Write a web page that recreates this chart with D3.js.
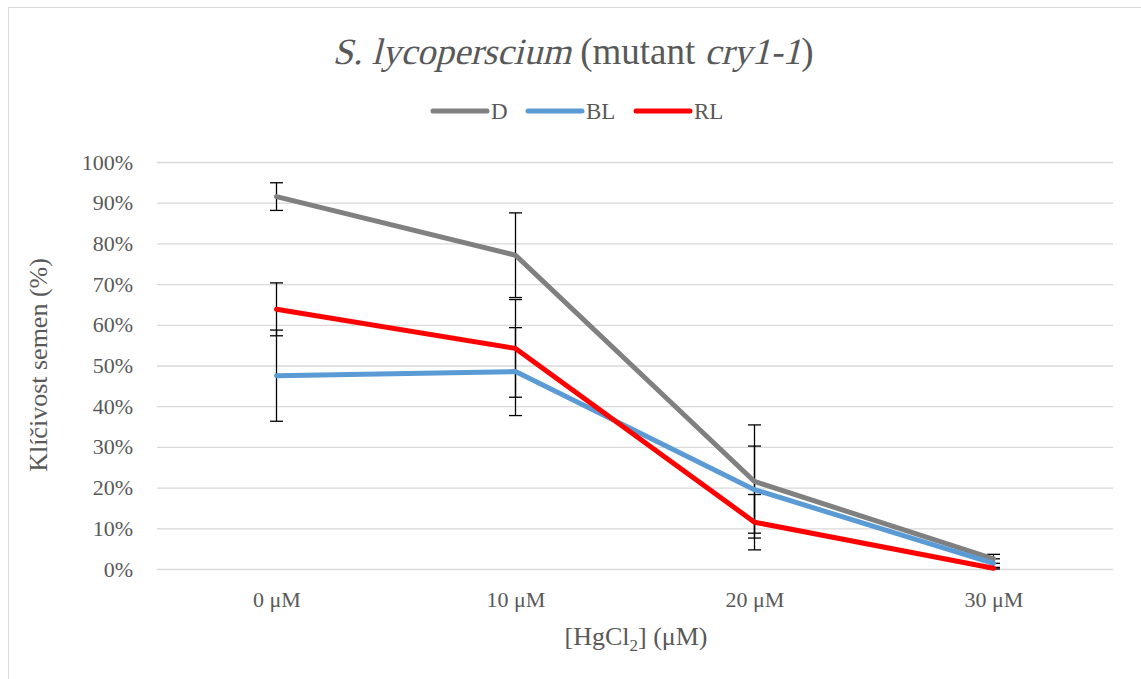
<!DOCTYPE html>
<html>
<head>
<meta charset="utf-8">
<script src="https://cdn.jsdelivr.net/npm/d3@7"></script>
<style>
  body { margin: 0; background: #fff; }
  svg { display: block; font-family: "Liberation Serif", "Times New Roman", serif; }
</style>
</head>
<body>
<div id="chart"></div>
<script>
// Data.
const categories = ['0 μM', '10 μM', '20 μM', '30 μM']
const seriesNames = ['D', 'BL', 'RL']
const seriesColors = ['#808080', '#5b9bd5', '#ff0000']
const valuesD = [0.915, 0.771, 0.215, 0.025]
const valuesBL = [0.475, 0.485, 0.195, 0.014]
const valuesRL = [0.638, 0.542, 0.115, 0.002]
const errorsD = [0.034, 0.104, 0.139, 0.011]
const errorsBL = [0.112, 0.108, 0.107, 0.011]
const errorsRL = [0.065, 0.12, 0.068, 0.002]
const yTicks = [0, 0.1, 0.2, 0.3, 0.4, 0.5, 0.6, 0.7, 0.8, 0.9, 1]

const series = [
  { name: seriesNames[0], color: seriesColors[0], values: valuesD, errors: errorsD },
  { name: seriesNames[1], color: seriesColors[1], values: valuesBL, errors: errorsBL },
  { name: seriesNames[2], color: seriesColors[2], values: valuesRL, errors: errorsRL }
]

const width = 1141, height = 679
const textColor = '#595959'
const serif = '"Liberation Serif", "Times New Roman", serif'

const svg = d3.select('#chart').append('svg')
  .attr('width', width)
  .attr('height', height)

// Chart frame.
svg.append('rect')
  .attr('x', 8.5).attr('y', 7.5)
  .attr('width', 1200).attr('height', 800)
  .attr('fill', 'none')
  .attr('stroke', '#d9d9d9')

const x = d3.scalePoint()
  .domain(categories)
  .range([157, 1113])
  .padding(0.5)

const y = d3.scaleLinear()
  .domain([0, 1])
  .range([569, 162])

// Gridlines + y labels.
const yAxis = svg.append('g')
  .attr('transform', 'translate(157,0)')
  .call(d3.axisLeft(y).tickValues(yTicks).tickFormat(d3.format('.0%')).tickSize(-956).tickPadding(24))
  .attr('font-family', serif)
yAxis.select('.domain').remove()
yAxis.selectAll('line').attr('stroke', '#d9d9d9').attr('stroke-width', 1.3)
yAxis.selectAll('text').attr('fill', textColor).style('font-size', '22px')

// X labels.
const xAxis = svg.append('g')
  .attr('transform', 'translate(0,569)')
  .call(d3.axisBottom(x).tickSize(0).tickPadding(22))
  .attr('font-family', serif)
xAxis.select('.domain').remove()
xAxis.selectAll('text').attr('fill', textColor).style('font-size', '22px')

// Error bars (under the lines).
series.forEach(s => {
  const g = svg.append('g').attr('stroke', '#000').attr('stroke-width', 1.3)
  s.values.forEach((v, i) => {
    const cx = x(categories[i])
    const top = y(v + s.errors[i]), bottom = y(v - s.errors[i])
    g.append('line').attr('x1', cx).attr('x2', cx).attr('y1', top).attr('y2', bottom)
    g.append('line').attr('x1', cx - 6.5).attr('x2', cx + 6.5).attr('y1', top).attr('y2', top)
    g.append('line').attr('x1', cx - 6.5).attr('x2', cx + 6.5).attr('y1', bottom).attr('y2', bottom)
  })
})

// Lines.
const line = d3.line()
  .x((d, i) => x(categories[i]))
  .y(d => y(d))

series.forEach(s => {
  svg.append('path')
    .datum(s.values)
    .attr('d', line)
    .attr('fill', 'none')
    .attr('stroke', s.color)
    .attr('stroke-width', 5)
    .attr('stroke-linejoin', 'round')
    .attr('stroke-linecap', 'round')
})

// Title: italic parts slanted by hand so they stay in the serif face.
const titleParts = [
  { text: 'S. lycoperscium', italic: true },
  { text: ' (mutant ', italic: false },
  { text: 'cry1-1', italic: true },
  { text: ')', italic: false }
]
const titleG = svg.append('g')
const titleY = 64
let cursor = 0
const pieces = titleParts.map(p => {
  const t = titleG.append('text')
    .attr('fill', textColor)
    .style('font-size', '37px')
    .style('white-space', 'pre')
    .attr('xml:space', 'preserve')
    .text(p.text)
  const w = t.node().getComputedTextLength()
  const piece = { node: t, x: cursor, italic: p.italic }
  cursor += w
  return piece
})
const titleLeft = 573 - cursor / 2
pieces.forEach(p => {
  const px = titleLeft + p.x
  if (p.italic) {
    p.node.attr('transform', 'translate(' + px + ',' + titleY + ') skewX(-14)')
  } else {
    p.node.attr('transform', 'translate(' + px + ',' + titleY + ')')
  }
})

// Legend.
const legendX = [433, 528, 636]
series.forEach((s, i) => {
  const g = svg.append('g').attr('transform', 'translate(' + legendX[i] + ',111)')
  g.append('line')
    .attr('x1', 0).attr('x2', 54)
    .attr('stroke', s.color).attr('stroke-width', 5).attr('stroke-linecap', 'round')
  g.append('text')
    .attr('x', 58).attr('y', 8)
    .attr('fill', textColor)
    .style('font-size', '23px')
    .text(s.name)
})

// Axis titles.
const xTitle = svg.append('text')
  .attr('x', 636).attr('y', 645)
  .attr('text-anchor', 'middle')
  .attr('fill', textColor)
  .style('font-size', '26px')
xTitle.append('tspan').text('[HgCl')
xTitle.append('tspan').attr('dy', 6).style('font-size', '17px').text('2')
xTitle.append('tspan').attr('dy', -6).text('] (μM)')

svg.append('text')
  .attr('transform', 'translate(47,365) rotate(-90)')
  .attr('text-anchor', 'middle')
  .attr('fill', textColor)
  .style('font-size', '26px')
  .text('Klíčivost semen (%)')
</script>
</body>
</html>
